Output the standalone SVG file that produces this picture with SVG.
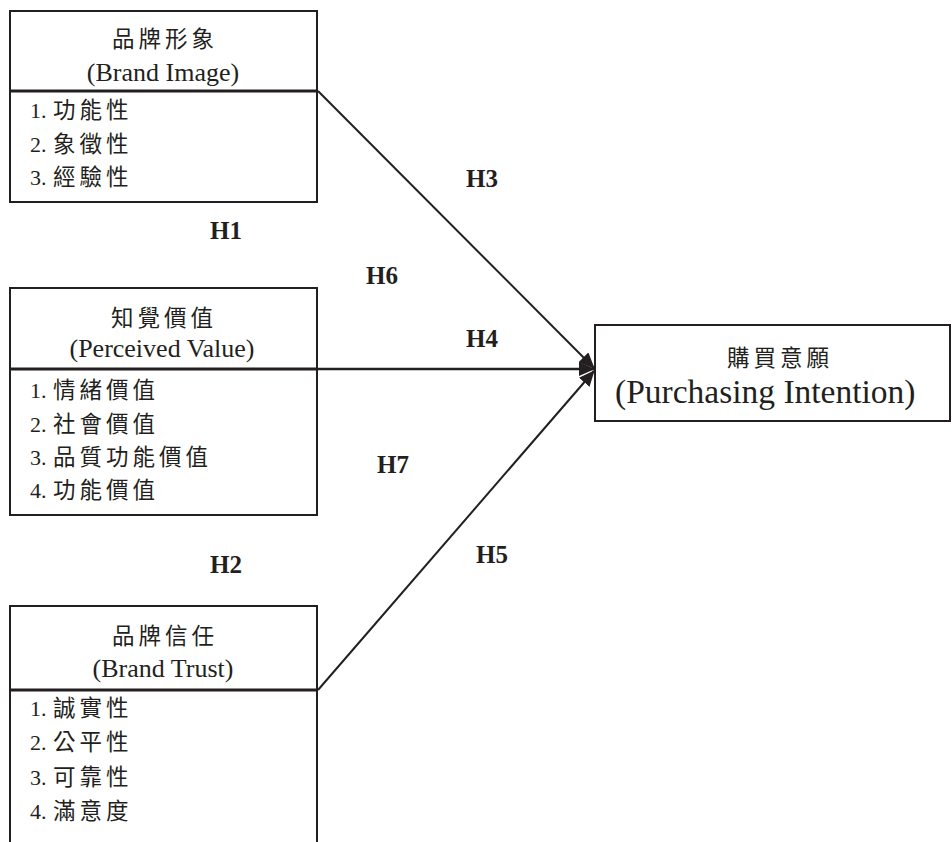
<svg xmlns="http://www.w3.org/2000/svg" width="952" height="842" viewBox="0 0 952 842">
<defs>
<style>
.box{fill:none;stroke:#231f20;stroke-width:2}
.div{stroke:#231f20;stroke-width:3}
.con{stroke:#231f20;stroke-width:2;fill:none}
.cjk{font-family:"Noto Sans CJK TC","Noto Sans CJK SC",sans-serif;font-size:22.5px;fill:#231f20;letter-spacing:4px}
.en{font-family:"Liberation Serif","Noto Sans CJK TC",serif;font-size:26px;fill:#231f20}
.num{font-family:"Liberation Serif",serif;font-size:22px;fill:#231f20}
.h{font-family:"Liberation Serif",serif;font-size:25px;font-weight:bold;fill:#231f20}
</style>
<marker id="arr" markerWidth="16" markerHeight="14" refX="15" refY="7" orient="auto" markerUnits="userSpaceOnUse">
<path d="M0,0 L16,7 L0,14 Z" fill="#231f20"/>
</marker>
</defs>
<rect width="952" height="842" fill="#ffffff"/>

<g id="brand-image">
<rect class="box" x="10" y="11" width="307" height="191"/>
<line class="div" x1="10" y1="91" x2="317" y2="91"/>
<text class="cjk" x="112" y="47">品牌形象</text>
<text class="en" x="163" y="81" text-anchor="middle">(Brand Image)</text>
<text class="num" x="30" y="118">1.<tspan class="cjk" x="53">功能性</tspan></text>
<text class="num" x="30" y="152">2.<tspan class="cjk" x="53">象徵性</tspan></text>
<text class="num" x="30" y="185">3.<tspan class="cjk" x="53">經驗性</tspan></text>
</g>

<g id="perceived-value">
<rect class="box" x="10" y="288" width="307" height="227"/>
<line class="div" x1="10" y1="369" x2="317" y2="369"/>
<text class="cjk" x="111" y="326">知覺價值</text>
<text class="en" x="162" y="357" text-anchor="middle">(Perceived Value)</text>
<text class="num" x="30" y="398">1.<tspan class="cjk" x="53">情緒價值</tspan></text>
<text class="num" x="30" y="432">2.<tspan class="cjk" x="53">社會價值</tspan></text>
<text class="num" x="30" y="465">3.<tspan class="cjk" x="53">品質功能價值</tspan></text>
<text class="num" x="30" y="498">4.<tspan class="cjk" x="53">功能價值</tspan></text>
</g>

<g id="brand-trust">
<path class="box" d="M10,842 V606 H317 V842"/>
<line class="div" x1="10" y1="690" x2="317" y2="690"/>
<text class="cjk" x="112" y="644">品牌信任</text>
<text class="en" x="163" y="677" text-anchor="middle">(Brand Trust)</text>
<text class="num" x="30" y="716">1.<tspan class="cjk" x="53">誠實性</tspan></text>
<text class="num" x="30" y="750">2.<tspan class="cjk" x="53">公平性</tspan></text>
<text class="num" x="30" y="785">3.<tspan class="cjk" x="53">可靠性</tspan></text>
<text class="num" x="30" y="819">4.<tspan class="cjk" x="53">滿意度</tspan></text>
</g>

<g id="purchasing-intention">
<rect class="box" x="595" y="325" width="355" height="96"/>
<text class="cjk" x="727" y="366">購買意願</text>
<text class="en" x="615" y="403" style="font-size:33.5px">(Purchasing Intention)</text>
</g>

<g id="connectors">
<line class="con" x1="318" y1="91" x2="594" y2="368" marker-end="url(#arr)"/>
<line class="con" x1="317" y1="369" x2="594" y2="369" marker-end="url(#arr)" style="stroke-width:2.5"/>
<line class="con" x1="318" y1="690" x2="594" y2="371" marker-end="url(#arr)"/>
</g>

<g id="labels">
<text class="h" x="466" y="187">H3</text>
<text class="h" x="210" y="239">H1</text>
<text class="h" x="366" y="284">H6</text>
<text class="h" x="466" y="347">H4</text>
<text class="h" x="377" y="473">H7</text>
<text class="h" x="210" y="573">H2</text>
<text class="h" x="476" y="563">H5</text>
</g>
</svg>
